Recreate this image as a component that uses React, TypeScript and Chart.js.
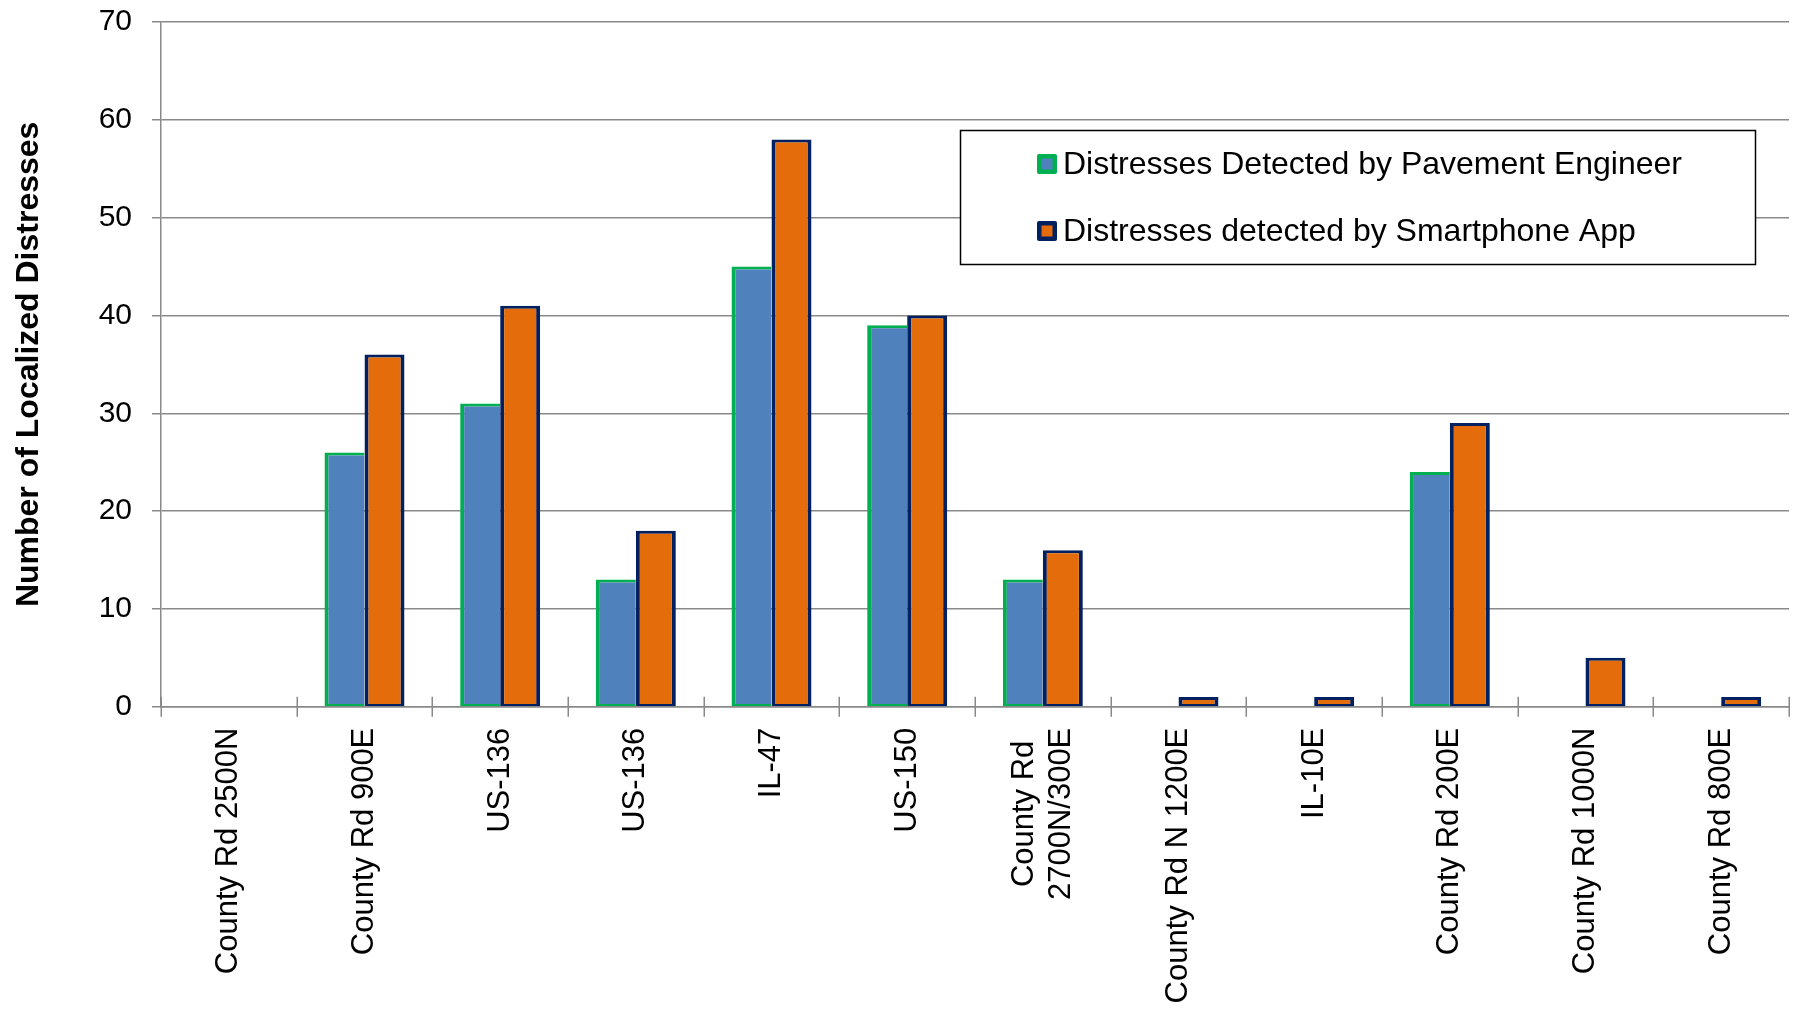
import React, { useEffect, useRef } from "react";
import { Chart, registerables } from "chart.js";

Chart.register(...registerables);

// Road segments surveyed (one category each); a nested array is a two-line label
const roads: (string | string[])[] = [
  "County Rd 2500N",
  "County Rd 900E",
  "US-136",
  "US-136",
  "IL-47",
  "US-150",
  ["County Rd", "2700N/300E"],
  "County Rd N 1200E",
  "IL-10E",
  "County Rd 200E",
  "County Rd 1000N",
  "County Rd 800E",
];

const engineerCounts = [0, 26, 31, 13, 45, 39, 13, 0, 0, 24, 0, 0];
const appCounts = [0, 36, 41, 18, 58, 40, 16, 1, 1, 29, 5, 1];

const seriesNames = [
  "Distresses Detected by Pavement Engineer",
  "Distresses detected by Smartphone App",
];

const yAxisTitle = "Number of Localized Distresses";
const yMin = 0;
const yMax = 70;
const yStep = 10;

const FONT = "'Liberation Sans', Arial, Helvetica, sans-serif";
const GRID = "#898989";
const BLUE = "#4f81bd";
const GREEN = "#00b050";
const ORANGE = "#e46c0a";
const NAVY = "#002060";

// Rotated category labels, multi-line labels centred on each other
const roadLabelsPlugin = {
  id: "roadLabels",
  afterDraw(chart: any) {
    const { ctx } = chart;
    const xs = chart.scales.x;
    const labels = chart.data.labels as (string | string[])[];
    const top = chart.chartArea.bottom + 21;
    const lineGap = 36.5;
    ctx.save();
    ctx.font = `31px ${FONT}`;
    ctx.fillStyle = "#000";
    ctx.textBaseline = "middle";
    ctx.textAlign = "center";
    labels.forEach((lab, i) => {
      const lines = Array.isArray(lab) ? lab : [lab];
      const maxW = Math.max(...lines.map((l) => ctx.measureText(l).width));
      const x = xs.getPixelForValue(i);
      ctx.save();
      ctx.translate(x, top);
      ctx.rotate(-Math.PI / 2);
      lines.forEach((l, j) => {
        ctx.fillText(l, -maxW / 2, (j - (lines.length - 1) / 2) * lineGap);
      });
      ctx.restore();
    });
    ctx.restore();
  },
};

// Cross tick marks between categories on the horizontal axis
const crossTicksPlugin = {
  id: "crossTicks",
  afterDatasetsDraw(chart: any) {
    const { ctx } = chart;
    const xs = chart.scales.x;
    const n = chart.data.labels.length;
    const step = xs.getPixelForValue(1) - xs.getPixelForValue(0);
    const base = chart.chartArea.bottom;
    ctx.save();
    ctx.strokeStyle = GRID;
    ctx.lineWidth = 1.5;
    for (let i = 0; i <= n; i++) {
      const x = Math.round(xs.getPixelForValue(0) - step / 2 + i * step) + 0.25;
      ctx.beginPath();
      ctx.moveTo(x, base - 10);
      ctx.lineTo(x, base + 10);
      ctx.stroke();
    }
    ctx.restore();
  },
};

// Boxed legend in the upper right of the plot
const legendBoxPlugin = {
  id: "legendBox",
  afterDraw(chart: any) {
    const { ctx } = chart;
    const box = { x: 960.5, y: 130.5, w: 795, h: 134 };
    ctx.save();
    ctx.fillStyle = "#fff";
    ctx.fillRect(box.x, box.y, box.w, box.h);
    ctx.strokeStyle = "#000";
    ctx.lineWidth = 1.5;
    ctx.strokeRect(box.x, box.y, box.w, box.h);
    const rows = [164, 231];
    ctx.font = `32px ${FONT}`;
    ctx.textBaseline = "middle";
    ctx.textAlign = "left";
    chart.data.datasets.forEach((ds: any, i: number) => {
      const cy = rows[i];
      const mx = 1037;
      const size = 20;
      ctx.fillStyle = ds.borderColor;
      ctx.beginPath();
      (ctx as any).roundRect(mx, cy - size / 2, size, size, 2);
      ctx.fill();
      ctx.fillStyle = ds.backgroundColor;
      ctx.fillRect(mx + 4.5, cy - size / 2 + 4.5, size - 9, size - 9);
      ctx.fillStyle = "#000";
      ctx.fillText(ds.label, 1063, cy + 1);
    });
    ctx.restore();
  },
};

export default function App() {
  const canvasRef = useRef<HTMLCanvasElement | null>(null);

  useEffect(() => {
    const canvas = canvasRef.current;
    if (!canvas) return;
    const chart = new Chart(canvas, {
      type: "bar",
      data: {
        labels: roads as any,
        datasets: [
          {
            label: seriesNames[0],
            data: engineerCounts,
            backgroundColor: BLUE,
            borderColor: GREEN,
            borderWidth: { top: 3, left: 4, bottom: 2, right: 0 },
            borderSkipped: false,
            inflateAmount: 0,
          },
          {
            label: seriesNames[1],
            data: appCounts,
            backgroundColor: ORANGE,
            borderColor: NAVY,
            borderWidth: { top: 3, left: 4, bottom: 2, right: 4 },
            borderSkipped: false,
            inflateAmount: 0,
          },
        ],
      },
      options: {
        animation: false,
        responsive: true,
        maintainAspectRatio: false,
        layout: { padding: { top: 22, right: 10, bottom: 0, left: 0 } },
        datasets: {
          bar: { categoryPercentage: 0.5896, barPercentage: 1 },
        },
        plugins: {
          legend: { display: false },
          tooltip: { enabled: false },
        },
        scales: {
          x: {
            offset: true,
            grid: { display: false },
            border: { display: true, color: GRID, width: 1.5 },
            ticks: { display: false },
            afterFit(scale: any) {
              scale.height = 307.3;
            },
          },
          y: {
            min: yMin,
            max: yMax,
            ticks: {
              stepSize: yStep,
              color: "#000",
              padding: 20,
              font: { family: FONT, size: 30 },
            },
            grid: {
              color: GRID,
              lineWidth: 1.5,
              drawTicks: true,
              tickLength: 9,
            },
            border: { display: true, color: GRID, width: 1.5 },
            title: {
              display: true,
              text: yAxisTitle,
              color: "#000",
              padding: { top: 10, bottom: 0 },
              font: { family: FONT, size: 32, weight: "bold" },
            },
            afterFit(scale: any) {
              scale.width = 161;
              scale.paddingTop = 0;
              scale.paddingBottom = 0;
            },
          },
        },
      },
      plugins: [crossTicksPlugin, roadLabelsPlugin, legendBoxPlugin],
    });
    return () => chart.destroy();
  }, []);

  return (
    <div
      style={{
        position: "absolute",
        left: 0,
        top: 0,
        width: "1799px",
        height: "1014px",
        background: "#fff",
      }}
    >
      <canvas ref={canvasRef} />
    </div>
  );
}
